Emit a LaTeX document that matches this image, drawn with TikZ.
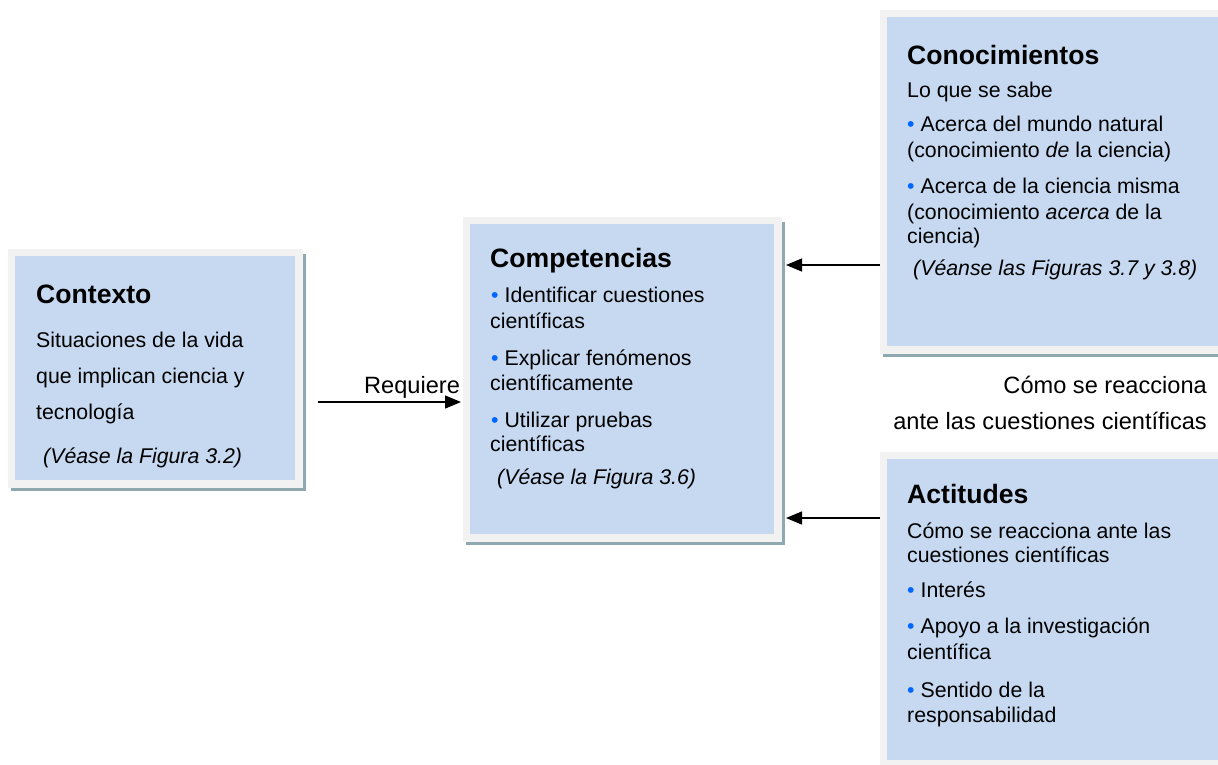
\documentclass[tikz,border=0pt]{standalone}
\usepackage{fontspec}
\setmainfont{Liberation Sans}
\usetikzlibrary{arrows.meta,backgrounds}
\definecolor{frame}{HTML}{F2F2F2}
\definecolor{inner}{HTML}{C6D9F1}
\definecolor{shadowc}{HTML}{8FA9B0}
\definecolor{bulletblue}{HTML}{0066FF}
\newcommand\bodyfont{\fontsize{21.3}{26}\selectfont}
\newcommand\midfont{\fontsize{23.6}{28}\selectfont}
\newcommand\titlefont{\fontsize{26.6}{32}\selectfont\bfseries}
\newcommand\bul{{\color{bulletblue}\textbullet}\ }
\tikzset{
  box/.style={fill=frame, draw=none, inner sep=0pt, outer sep=0pt, anchor=north west},
  txt/.style={anchor=base west, inner sep=0pt, font=\bodyfont},
  midtxt/.style={inner sep=0pt, font=\midfont},
  ttl/.style={anchor=base west, inner sep=0pt, font=\titlefont},
  arr/.style={line width=1.4pt, -{Triangle[length=16pt,width=13pt]}},
}
\newcommand\boxdeco[1]{%
  \fill[inner] ([xshift=7pt,yshift=-7pt]#1.north west) rectangle ([xshift=-8pt,yshift=8pt]#1.south east);
  \begin{scope}[on background layer]
  \fill[shadowc] ([xshift=3pt,yshift=-5pt]#1.north west) rectangle ([xshift=2.5pt,yshift=-3pt]#1.south east);
  \end{scope}}
\begin{document}
\begin{tikzpicture}[x=1pt,y=-1pt]
\useasboundingbox (0,0) rectangle (1218,764);
% boxes
\node[box, minimum width=295pt, minimum height=239pt] (ctx) at (8,249) {};
\boxdeco{ctx}
\node[box, minimum width=319pt, minimum height=325pt] (comp) at (463,217) {};
\boxdeco{comp}
\node[box, minimum width=350pt, minimum height=344pt] (con) at (880,10) {};
\boxdeco{con}
\node[box, minimum width=350pt, minimum height=316pt] (act) at (880,452) {};
\boxdeco{act}
% Contexto
\node[ttl] (ctxT) at (36,303) {Contexto};
\node[txt] (ctx1) at (36,347) {Situaciones de la vida};
\node[txt] (ctx2) at (36,383) {que implican ciencia y};
\node[txt] (ctx3) at (36,419) {tecnología};
\node[txt] (ctx4) at (43,463) {\itshape (Véase la Figura 3.2)};
% Competencias
\node[ttl] (compT) at (490,267) {Competencias};
\node[txt] (comp1) at (491,302) {\bul Identificar cuestiones};
\node[txt] (comp2) at (490,328) {científicas};
\node[txt] (comp3) at (491,365) {\bul Explicar fenómenos};
\node[txt] (comp4) at (490,390) {científicamente};
\node[txt] (comp5) at (491,427) {\bul Utilizar pruebas};
\node[txt] (comp6) at (490,451) {científicas};
\node[txt] (comp7) at (497,484) {\itshape (Véase la Figura 3.6)};
% Conocimientos
\node[ttl] (conT) at (907,64) {Conocimientos};
\node[txt] (con1) at (907,97) {Lo que se sabe};
\node[txt] (con2) at (907,131) {\bul Acerca del mundo natural};
\node[txt] (con3) at (907,157) {(conocimiento \textit{de} la ciencia)};
\node[txt] (con4) at (907,193) {\bul Acerca de la ciencia misma};
\node[txt] (con5) at (907,219) {(conocimiento \textit{acerca} de la};
\node[txt] (con6) at (907,243) {ciencia)};
\node[txt] (con7) at (913,275) {\itshape (Véanse las Figuras 3.7 y 3.8)};
% Actitudes
\node[ttl] (actT) at (907,503) {Actitudes};
\node[txt] (act1) at (907,538) {Cómo se reacciona ante las};
\node[txt] (act2) at (907,562) {cuestiones científicas};
\node[txt] (act3) at (907,597) {\bul Interés};
\node[txt] (act4) at (907,633) {\bul Apoyo a la investigación};
\node[txt] (act5) at (907,659) {científica};
\node[txt] (act6) at (907,697) {\bul Sentido de la};
\node[txt] (act7) at (907,722) {responsabilidad};
% middle texts
\node[midtxt, anchor=base east] (mid1) at (1207,393) {Cómo se reacciona};
\node[midtxt, anchor=base east] (mid2) at (1207,429) {ante las cuestiones científicas};
\node[midtxt, anchor=base west] (req) at (364,393) {Requiere};
% connectors
\coordinate (rq) at (318,402);
\draw[arr, shorten >=2pt] (rq) -- (comp.west |- rq);
\coordinate (k1) at (880,265);
\draw[arr, shorten >=4pt] (k1) -- (comp.east |- k1);
\coordinate (k2) at (880,518);
\draw[arr, shorten >=4pt] (k2) -- (comp.east |- k2);
\end{tikzpicture}
\end{document}
